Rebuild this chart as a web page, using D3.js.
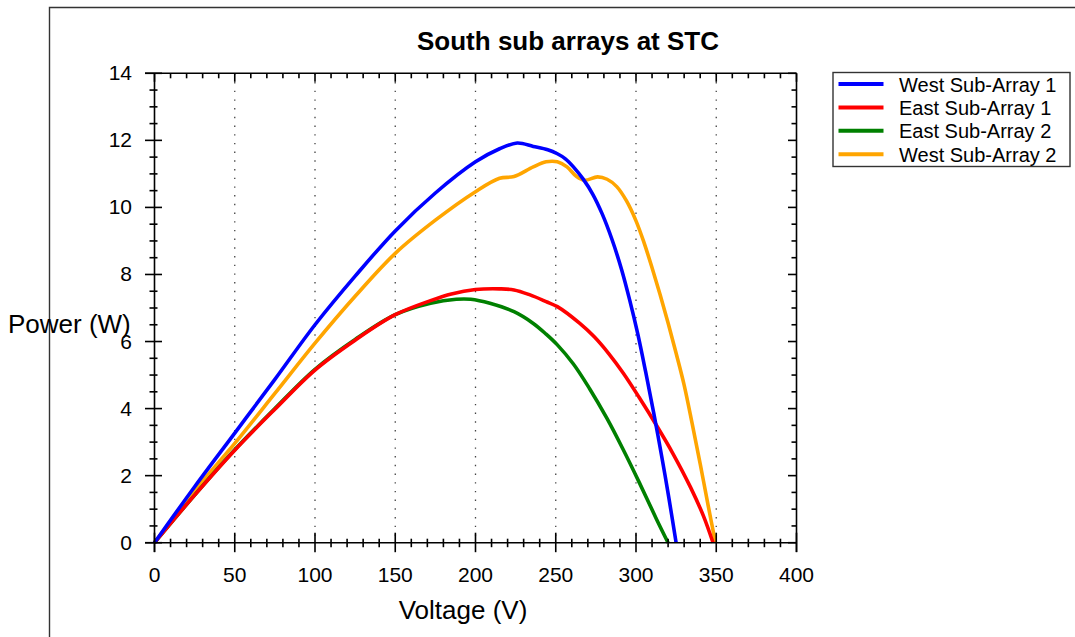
<!DOCTYPE html>
<html>
<head>
<meta charset="utf-8">
<script src="https://d3js.org/d3.v7.min.js"></script>
<style>
  html, body { margin: 0; padding: 0; background: #fff; }
  svg { display: block; font-family: "Liberation Sans", Arial, sans-serif; }
</style>
</head>
<body>
<svg id="chart" width="1075" height="637"></svg>
<script>
// Power–voltage curves of the south sub arrays at standard test conditions
const seriesNames = ["West Sub-Array 1", "East Sub-Array 1", "East Sub-Array 2", "West Sub-Array 2"];
const seriesColors = ["#0000ff", "#ff0000", "#008000", "#ffa500"];

const west1Voltage = [0, 25, 50, 75, 100, 125, 150, 175, 200, 215, 226, 236, 245, 251, 256, 261, 267, 273, 279, 285, 291, 296, 301, 306, 311, 316, 320.5, 325];
const west1Power   = [0, 1.67, 3.27, 4.87, 6.5, 7.95, 9.3, 10.43, 11.36, 11.75, 11.92, 11.82, 11.72, 11.6, 11.45, 11.21, 10.85, 10.4, 9.8, 9.05, 8.15, 7.25, 6.25, 5.1, 3.88, 2.58, 1.33, 0];

const east1Voltage = [0, 25, 50, 75, 100, 125, 150, 172, 185, 200, 215, 224, 234, 244, 251, 265, 274, 283, 292, 302, 313, 323, 334, 342, 348];
const east1Power   = [0, 1.42, 2.76, 3.98, 5.15, 6.04, 6.8, 7.22, 7.42, 7.55, 7.57, 7.54, 7.39, 7.19, 7.04, 6.54, 6.14, 5.64, 5.06, 4.33, 3.48, 2.66, 1.65, 0.8, 0];

const east2Voltage = [0, 25, 50, 75, 100, 125, 150, 172, 188, 197, 209, 224, 236, 244, 251, 261, 271, 282, 292, 302, 313, 320];
const east2Power   = [0, 1.42, 2.77, 4.0, 5.17, 6.06, 6.8, 7.14, 7.26, 7.26, 7.14, 6.89, 6.54, 6.22, 5.9, 5.33, 4.6, 3.7, 2.78, 1.8, 0.68, 0];

const west2Voltage = [0, 25, 50, 75, 100, 125, 150, 175, 200, 215, 224, 236, 244, 251, 257, 263, 268, 276, 282, 288, 294, 300, 305, 310, 315, 320, 325, 330, 335, 340, 345, 349.5];
const west2Power   = [0, 1.55, 2.96, 4.45, 5.95, 7.35, 8.63, 9.62, 10.47, 10.87, 10.92, 11.21, 11.36, 11.36, 11.21, 10.92, 10.81, 10.91, 10.84, 10.62, 10.2, 9.6, 8.95, 8.2, 7.4, 6.55, 5.65, 4.7, 3.55, 2.35, 1.1, 0];

const xTickValues = [0, 50, 100, 150, 200, 250, 300, 350, 400];
const yTickValues = [0, 2, 4, 6, 8, 10, 12, 14];

const series = [
  { name: seriesNames[0], color: seriesColors[0], v: west1Voltage, p: west1Power },
  { name: seriesNames[1], color: seriesColors[1], v: east1Voltage, p: east1Power },
  { name: seriesNames[2], color: seriesColors[2], v: east2Voltage, p: east2Power },
  { name: seriesNames[3], color: seriesColors[3], v: west2Voltage, p: west2Power }
];

const svg = d3.select("#chart");

// outer frame
svg.append("path")
  .attr("d", "M49.5,637 L49.5,7.5 L1075,7.5")
  .attr("fill", "none").attr("stroke", "#333").attr("stroke-width", 1.4);

const plot = { left: 154.5, right: 796.5, top: 73.3, bottom: 542.7 };
const x = d3.scaleLinear().domain([0, 400]).range([plot.left, plot.right]);
const y = d3.scaleLinear().domain([0, 14]).range([plot.bottom, plot.top]);

// dotted vertical grid
svg.append("g").selectAll("line")
  .data(xTickValues.filter(d => d > 0 && d < 400))
  .join("line")
  .attr("x1", d => x(d)).attr("x2", d => x(d))
  .attr("y1", plot.top).attr("y2", plot.bottom)
  .attr("stroke", "#444").attr("stroke-width", 1.3)
  .attr("stroke-dasharray", "1.4,7.3");

// curves (drawn so the first legend entry ends up on top)
const line = d3.line().curve(d3.curveCatmullRom.alpha(0.5));
svg.append("g").selectAll("path")
  .data(series.slice().reverse())
  .join("path")
  .attr("d", s => line(s.v.map((v, i) => [x(v), y(s.p[i])])))
  .attr("fill", "none")
  .attr("stroke", s => s.color)
  .attr("stroke-width", 3.6)
  .attr("stroke-linejoin", "round");

// axes box with ticks
const ax = svg.append("g").attr("stroke", "#000").attr("stroke-width", 1.6);
ax.append("line").attr("x1", 145).attr("x2", plot.right).attr("y1", plot.bottom).attr("y2", plot.bottom);
ax.append("line").attr("x1", 145).attr("x2", plot.right).attr("y1", plot.top).attr("y2", plot.top);
ax.append("line").attr("x1", plot.left).attr("x2", plot.left).attr("y1", plot.top).attr("y2", 552);
ax.append("line").attr("x1", plot.right).attr("x2", plot.right).attr("y1", plot.top).attr("y2", 552);

const xMinor = d3.range(0, 401, 10).filter(d => d % 50 !== 0);
const yMinor = d3.range(0, 14.01, 0.5).filter(d => d % 2 !== 0);

// bottom ticks
ax.selectAll(null).data(xTickValues).join("line")
  .attr("x1", d => x(d)).attr("x2", d => x(d)).attr("y1", plot.bottom - 10).attr("y2", plot.bottom + 9.5);
ax.selectAll(null).data(xMinor).join("line")
  .attr("x1", d => x(d)).attr("x2", d => x(d)).attr("y1", plot.bottom - 4).attr("y2", plot.bottom + 4.5);
// top ticks
ax.selectAll(null).data(xTickValues).join("line")
  .attr("x1", d => x(d)).attr("x2", d => x(d)).attr("y1", plot.top).attr("y2", plot.top + 8.5);
ax.selectAll(null).data(xMinor).join("line")
  .attr("x1", d => x(d)).attr("x2", d => x(d)).attr("y1", plot.top).attr("y2", plot.top + 5);
// left ticks
ax.selectAll(null).data(yTickValues).join("line")
  .attr("y1", d => y(d)).attr("y2", d => y(d)).attr("x1", 145).attr("x2", 162);
ax.selectAll(null).data(yMinor).join("line")
  .attr("y1", d => y(d)).attr("y2", d => y(d)).attr("x1", 149.5).attr("x2", 157.5);
// right ticks
ax.selectAll(null).data(yTickValues).join("line")
  .attr("y1", d => y(d)).attr("y2", d => y(d)).attr("x1", plot.right - 8.5).attr("x2", plot.right);
ax.selectAll(null).data(yMinor).join("line")
  .attr("y1", d => y(d)).attr("y2", d => y(d)).attr("x1", plot.right - 5).attr("x2", plot.right);

// tick labels
svg.append("g").selectAll("text").data(xTickValues).join("text")
  .attr("x", d => x(d)).attr("y", 582)
  .attr("text-anchor", "middle").attr("font-size", 21).attr("fill", "#000")
  .text(d => d);
svg.append("g").selectAll("text").data(yTickValues).join("text")
  .attr("x", 132).attr("y", d => y(d) + 7)
  .attr("text-anchor", "end").attr("font-size", 21).attr("fill", "#000")
  .text(d => d);

// titles
svg.append("text").attr("x", 568).attr("y", 50)
  .attr("text-anchor", "middle").attr("font-size", 26).attr("font-weight", "bold")
  .text("South sub arrays at STC");
svg.append("text").attr("x", 463).attr("y", 619)
  .attr("text-anchor", "middle").attr("font-size", 26)
  .text("Voltage (V)");
svg.append("text").attr("x", 8).attr("y", 333)
  .attr("font-size", 26)
  .text("Power (W)");

// legend
const lg = svg.append("g");
lg.append("rect").attr("x", 833).attr("y", 72.5).attr("width", 237).attr("height", 94)
  .attr("fill", "#fff").attr("stroke", "#333").attr("stroke-width", 1.4);
const rows = lg.selectAll("g.row").data(series).join("g").attr("class", "row")
  .attr("transform", (d, i) => `translate(0,${84 + i * 23.4})`);
rows.append("line").attr("x1", 838.5).attr("x2", 883.5).attr("y1", 0).attr("y2", 0)
  .attr("stroke", d => d.color).attr("stroke-width", 4);
rows.append("text").attr("x", 899).attr("y", 7.5).attr("font-size", 20)
  .text(d => d.name);
</script>
</body>
</html>
